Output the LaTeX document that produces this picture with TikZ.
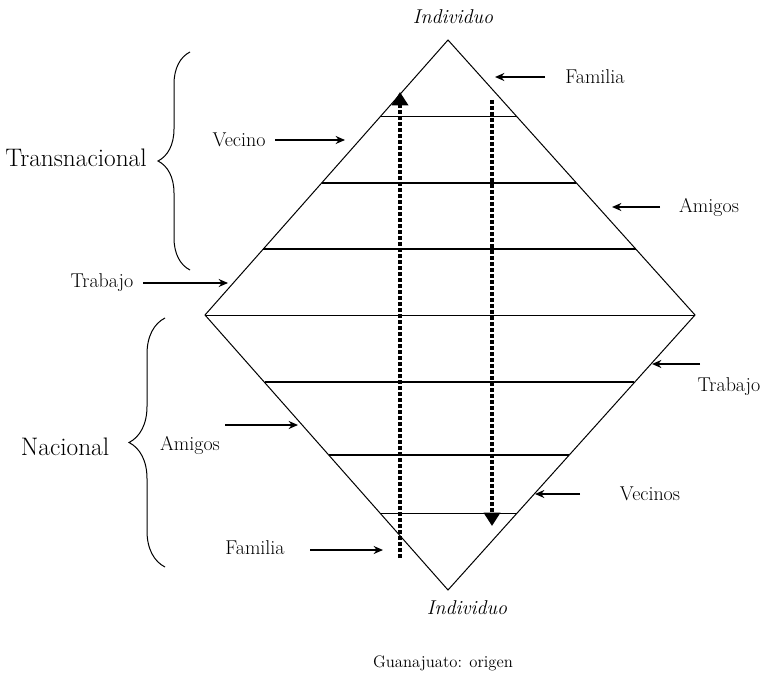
\documentclass[tikz,border=0pt]{standalone}
\usetikzlibrary{arrows.meta,decorations.pathreplacing,calc}
\begin{document}
\begin{tikzpicture}
  [x=0.75pt,y=-0.75pt,
   every node/.style={inner sep=0pt,font=\fontsize{15}{17}\selectfont},
   big/.style={font=\fontsize{19}{22}\selectfont},
   ital/.style={font=\fontsize{15}{17}\selectfont\itshape},
   fine/.style={line width=0.75pt},
   rung/.style={line width=1.6pt},
   ptr/.style={line width=1.3pt,-{Stealth[length=7pt,width=6pt]}},
   flow/.style={line width=3pt,dash pattern=on 3pt off 1.5pt,-{Triangle[length=10pt,width=12pt]}},
   brc/.style={fine,decorate,decoration={brace,amplitude=#1}}]
  \useasboundingbox (0,0) rectangle (770,677);

  % diamond
  \coordinate (top) at (448,40);
  \coordinate (right) at (695,315);
  \coordinate (bot) at (448,590);
  \coordinate (left) at (205,315);
  \draw[fine] (top) -- (right) -- (bot) -- (left) -- cycle;
  \draw[fine] (left) -- (right);
  \foreach \t/\s in {0.28/fine,0.52/rung,0.76/rung}
    \draw[\s] ($(top)!\t!(left)$) -- ($(top)!\t!(right)$);
  \foreach \t/\s in {0.28/fine,0.49/rung,0.755/rung}
    \draw[\s] ($(bot)!\t!(left)$) -- ($(bot)!\t!(right)$);

  % flows
  \coordinate (upS) at (400,558);
  \coordinate (upE) at (400,92);
  \coordinate (dnS) at (492,100);
  \coordinate (dnE) at (492,526);
  \draw[flow] (upS) -- (upE);
  \draw[flow] (dnS) -- (dnE);

  % labels
  \node[ital] (indT) at (453,17) {Individuo};
  \node[ital] (indB) at (467,608) {Individuo};
  \node (guan) at (443,663) {\fontsize{12.5}{14}\selectfont Guanajuato: origen};
  \node[big] (trans) at (76,158) {Transnacional};
  \node[big] (nac) at (65,447) {Nacional};
  \node (famT) at (595,77) {Familia};
  \node (vec) at (239,140) {Vecino};
  \node (amiT) at (709,207) {Amigos};
  \node (trabL) at (102,283) {Trabajo};
  \node (trabR) at (729,387) {Trabajo};
  \node (amiL) at (190,445) {Amigos};
  \node (vecs) at (650,494) {Vecinos};
  \node (famB) at (255,548) {Familia};

  % pointers
  \coordinate (p1s) at (545,77);  \coordinate (p1e) at (495,77);
  \coordinate (p2s) at (275,140); \coordinate (p2e) at (345,140);
  \coordinate (p3s) at (660,207); \coordinate (p3e) at (612,207);
  \coordinate (p4s) at (143,283); \coordinate (p4e) at (228,283);
  \coordinate (p5s) at (700,364); \coordinate (p5e) at (652,364);
  \coordinate (p6s) at (225,425); \coordinate (p6e) at (298,425);
  \coordinate (p7s) at (580,494); \coordinate (p7e) at (535,494);
  \coordinate (p8s) at (310,550); \coordinate (p8e) at (383,550);
  \foreach \i in {1,...,8}
    \draw[ptr] (p\i s) -- (p\i e);

  % braces
  \coordinate (b1s) at (190,270); \coordinate (b1e) at (190,52);
  \coordinate (b2s) at (165,567); \coordinate (b2e) at (165,318);
  \draw[brc=24pt] (b1s) -- (b1e);
  \draw[brc=27pt] (b2s) -- (b2e);

\end{tikzpicture}
\end{document}
